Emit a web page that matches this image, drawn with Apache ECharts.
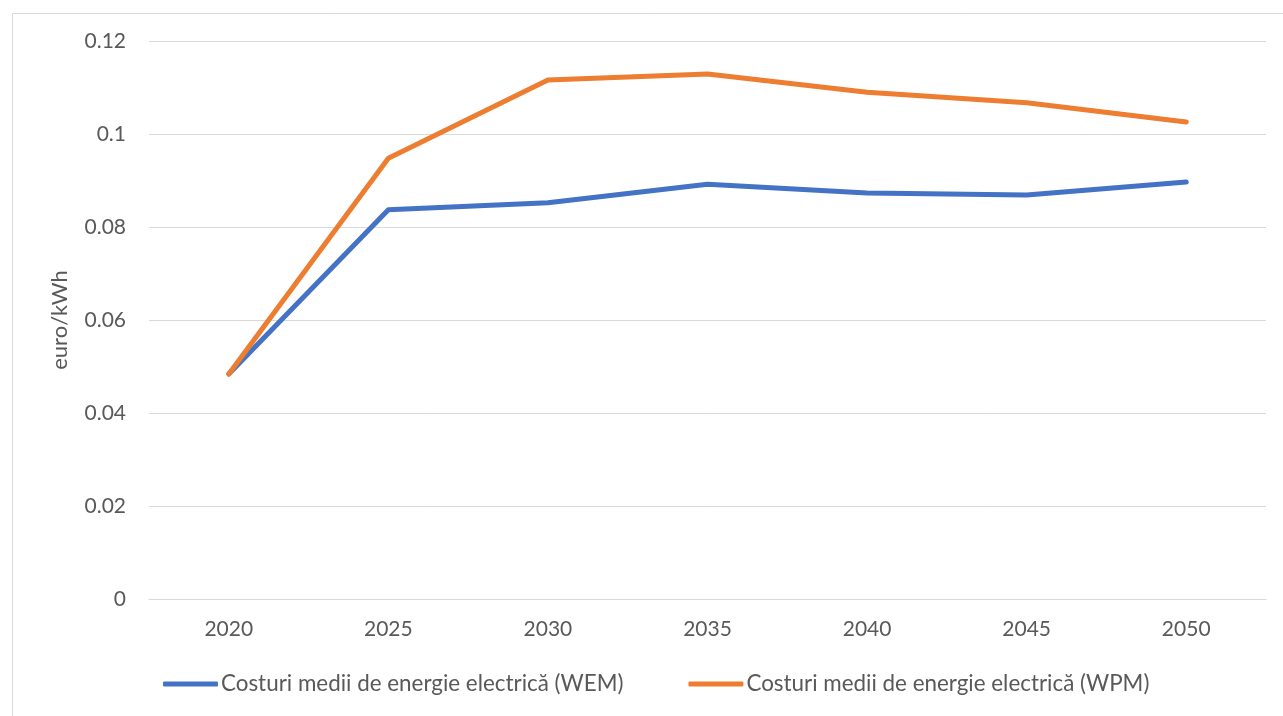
<!DOCTYPE html>
<html>
<head>
<meta charset="utf-8">
<script src="https://cdn.jsdelivr.net/npm/echarts@6/dist/echarts.min.js"></script>
<style>
  html, body { margin: 0; padding: 0; background: #fff; }
  #chart { width: 1283px; height: 716px; }
</style>
</head>
<body>
<div id="chart"></div>
<script>
const years = ['2020', '2025', '2030', '2035', '2040', '2045', '2050']
const wem = [0.0484, 0.0837, 0.0852, 0.0892, 0.0873, 0.0869, 0.0897]
const wpm = [0.0484, 0.0948, 0.1116, 0.1129, 0.1090, 0.1067, 0.1026]
const seriesNames = [
  'Costuri medii de energie electrică (WEM)',
  'Costuri medii de energie electrică (WPM)'
]

const textColor = '#595959'
const fontFam = 'Lato, "Liberation Sans", sans-serif'

let chart = echarts.init(document.getElementById('chart'))
chart.setOption({
  animation: false,
  color: ['#4472C4', '#ED7D31'],
  textStyle: { fontFamily: fontFam },
  graphic: [
    {
      type: 'rect',
      left: 10,
      top: 11,
      shape: { width: 1400, height: 900 },
      style: { fill: 'none', stroke: '#d9d9d9', lineWidth: 1 }
    }
  ],
  grid: { left: 149, right: 17, top: 41, bottom: 117 },
  legend: {
    bottom: 16,
    left: 158,
    icon: 'roundRect',
    itemWidth: 55,
    itemHeight: 5,
    itemGap: 65,
    textStyle: { color: textColor, fontSize: 22.4, fontFamily: fontFam, padding: [0, 0, 0, -2] },
    data: seriesNames
  },
  xAxis: {
    type: 'category',
    data: years,
    boundaryGap: true,
    axisLine: { lineStyle: { color: '#d9d9d9', width: 1 } },
    axisTick: { show: false },
    axisLabel: { color: textColor, fontSize: 21, margin: 20 }
  },
  yAxis: {
    type: 'value',
    min: 0,
    max: 0.12,
    interval: 0.02,
    name: 'euro/kWh',
    nameLocation: 'middle',
    nameGap: 78,
    nameTextStyle: { color: textColor, fontSize: 22 },
    axisLine: { show: false },
    axisTick: { show: false },
    splitLine: { lineStyle: { color: '#d9d9d9', width: 1 } },
    axisLabel: {
      color: textColor,
      fontSize: 21,
      margin: 23,
      formatter: function (v) { return String(parseFloat(v.toFixed(2))) }
    }
  },
  series: [
    {
      name: seriesNames[0],
      type: 'line',
      data: wem,
      symbol: 'none',
      lineStyle: { width: 5, cap: 'round', join: 'round' }
    },
    {
      name: seriesNames[1],
      type: 'line',
      data: wpm,
      symbol: 'none',
      lineStyle: { width: 5, cap: 'round', join: 'round' }
    }
  ]
})
</script>
</body>
</html>
